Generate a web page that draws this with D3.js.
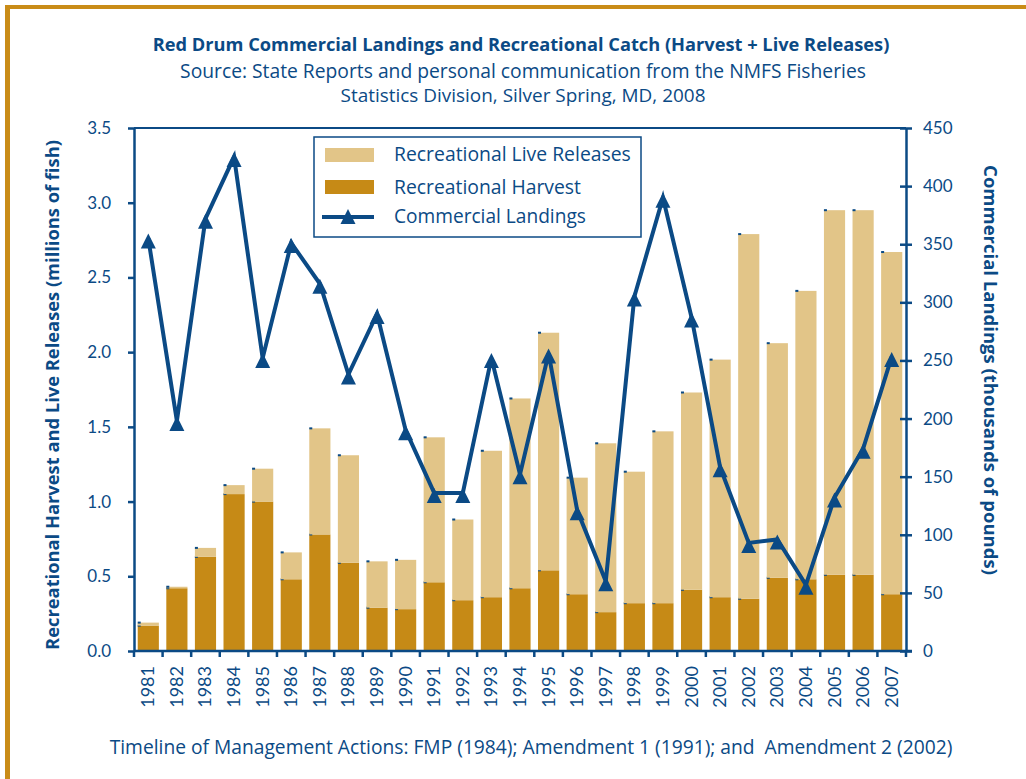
<!doctype html>
<html>
<head>
<meta charset="utf-8">
<script src="https://cdn.jsdelivr.net/npm/d3@7/dist/d3.min.js"></script>
<style>
  body { margin: 0; background: #fff; }
  svg { display: block; font-family: "Open Sans", Lato, sans-serif; }
  .axis path, .axis line { stroke: #0b4a85; stroke-width: 2.5; }
  .axis text { fill: #0b4a85; font-size: 17px; font-family: Lato, sans-serif; }
</style>
</head>
<body>
<svg id="chart" width="1026" height="779"></svg>
<script>
var years = ["1981","1982","1983","1984","1985","1986","1987","1988","1989","1990",
             "1991","1992","1993","1994","1995","1996","1997","1998","1999","2000",
             "2001","2002","2003","2004","2005","2006","2007"];
// millions of fish
var harvest  = [0.17,0.42,0.63,1.05,1.00,0.48,0.78,0.59,0.29,0.28,
                0.46,0.34,0.36,0.42,0.54,0.38,0.26,0.32,0.32,0.41,
                0.36,0.35,0.49,0.48,0.51,0.51,0.38];
var releases = [0.02,0.01,0.06,0.06,0.22,0.18,0.71,0.72,0.31,0.33,
                0.97,0.54,0.98,1.27,1.59,0.78,1.13,0.88,1.15,1.32,
                1.59,2.44,1.57,1.93,2.44,2.44,2.29];
// thousands of pounds
var commercial = [355,198,372,425,252,351,316,238,290,190,
                  136,136,252,152,256,121,60,305,390,287,
                  158,93,96,57,132,174,253];
var leftTicks  = [0,0.5,1.0,1.5,2.0,2.5,3.0,3.5];
var rightTicks = [0,50,100,150,200,250,300,350,400,450];
var legendLabels = ["Recreational Live Releases","Recreational Harvest","Commercial Landings"];

var blue = "#0b4a85", gold = "#c68a16", sand = "#e2c588", frame = "#c98c18";
var svg = d3.select("#chart");
var L = 134, R = 906, T = 128, B = 651;

// shrink/grow a text's font so it spans the given width
function fit(sel, w) {
  var fs = parseFloat(sel.style("font-size"));
  var len = sel.node().getComputedTextLength();
  sel.style("font-size", (fs * w / len).toFixed(2) + "px");
  return sel;
}

// page frame
svg.append("rect").attr("x", 5).attr("y", 5).attr("width", 1021).attr("height", 4).attr("fill", frame);
svg.append("rect").attr("x", 5).attr("y", 5).attr("width", 5).attr("height", 774).attr("fill", frame);

// titles
fit(svg.append("text").attr("x", 521).attr("y", 51).attr("text-anchor", "middle")
  .style("font-size", "17px").style("font-weight", "bold").attr("fill", blue)
  .text("Red Drum Commercial Landings and Recreational Catch (Harvest + Live Releases)"), 737);
fit(svg.append("text").attr("x", 523).attr("y", 78).attr("text-anchor", "middle")
  .style("font-size", "17px").attr("fill", blue)
  .text("Source: State Reports and personal communication from the NMFS Fisheries"), 686);
fit(svg.append("text").attr("x", 523).attr("y", 102).attr("text-anchor", "middle")
  .style("font-size", "17px").attr("fill", blue)
  .text("Statistics Division, Silver Spring, MD, 2008"), 365);

var x = d3.scaleBand().domain(years).range([L, R]).paddingInner(0.26).paddingOuter(0.13);
var yL = d3.scaleLinear().domain([0, 3.5]).range([B, T]);
var yR = d3.scaleLinear().domain([0, 450]).range([B, T]);

// stacked bars
var rows = years.map(function(y, i) { return {year: y, harvest: harvest[i], releases: releases[i]}; });
var stack = d3.stack().keys(["harvest", "releases"])(rows);
var colors = {harvest: gold, releases: sand};

var layers = svg.selectAll("g.layer").data(stack).enter().append("g")
  .attr("class", "layer").attr("fill", function(d) { return colors[d.key]; });
layers.selectAll("rect").data(function(d) { return d; }).enter().append("rect")
  .attr("x", function(d) { return x(d.data.year); })
  .attr("y", function(d) { return yL(d[1]); })
  .attr("width", x.bandwidth())
  .attr("height", function(d) { return yL(d[0]) - yL(d[1]); });
// little marks at each segment top
layers.selectAll("rect.dot").data(function(d) { return d; }).enter().append("rect")
  .attr("class", "dot").attr("fill", blue)
  .attr("x", function(d) { return x(d.data.year); })
  .attr("y", function(d) { return yL(d[1]) - 1; })
  .attr("width", 3).attr("height", 2);

// plot frame top
svg.append("line").attr("x1", L).attr("x2", R).attr("y1", T).attr("y2", T)
  .attr("stroke", blue).attr("stroke-width", 2);

// left axis
svg.append("g").attr("class", "axis").attr("transform", "translate(" + L + ",0)")
  .call(d3.axisLeft(yL).tickValues(leftTicks).tickFormat(d3.format(".1f")).tickSize(6).tickSizeOuter(0).tickPadding(17));

// right axis
var gR = svg.append("g").attr("class", "axis").attr("transform", "translate(" + R + ",0)")
  .call(d3.axisRight(yR).tickValues(rightTicks).tickSize(6).tickSizeOuter(0).tickPadding(11));
gR.selectAll(".tick line").attr("x1", -6);

// bottom axis
var gB = svg.append("g").attr("class", "axis").attr("transform", "translate(0," + B + ")");
gB.append("line").attr("x1", L).attr("x2", R + 6).attr("stroke", blue).attr("stroke-width", 2.5);
gB.selectAll("line.bt").data(d3.range(years.length + 1)).enter().append("line")
  .attr("class", "bt")
  .attr("x1", function(i) { return L + i * x.step(); })
  .attr("x2", function(i) { return L + i * x.step(); })
  .attr("y1", 0).attr("y2", 6).attr("stroke", blue).attr("stroke-width", 2);
gB.selectAll("text").data(years).enter().append("text")
  .attr("transform", function(d) { return "translate(" + (x(d) + x.bandwidth() / 2 + 6) + ",15) rotate(-90)"; })
  .attr("text-anchor", "end")
  .style("font-size", "18px")
  .text(function(d) { return d; });

// axis titles
fit(svg.append("text").attr("transform", "translate(59,395) rotate(-90)").attr("text-anchor", "middle")
  .style("font-size", "17px").style("font-weight", "bold").attr("fill", blue)
  .text("Recreational Harvest and Live Releases (millions of fish)"), 510);
fit(svg.append("text").attr("transform", "translate(984,370) rotate(90)").attr("text-anchor", "middle")
  .style("font-size", "17px").style("font-weight", "bold").attr("fill", blue)
  .text("Commercial Landings (thousands of pounds)"), 410);

// commercial landings line
var tri = "M0,-5L7.5,10L-7.5,10Z";
var cx = function(i) { return x(years[i]) + x.bandwidth() / 2; };
svg.append("path").datum(commercial)
  .attr("fill", "none").attr("stroke", blue).attr("stroke-width", 4).attr("stroke-linejoin", "miter")
  .attr("d", d3.line().x(function(d, i) { return cx(i); }).y(function(d) { return yR(d); }));
svg.selectAll("path.mk").data(commercial).enter().append("path")
  .attr("class", "mk").attr("fill", blue).attr("d", tri)
  .attr("transform", function(d, i) { return "translate(" + cx(i) + "," + yR(d) + ")"; });

// legend
var lg = svg.append("g");
lg.append("rect").attr("x", 314).attr("y", 137).attr("width", 327).attr("height", 100)
  .attr("fill", "#fff").attr("stroke", blue).attr("stroke-width", 1.5);
lg.append("rect").attr("x", 325).attr("y", 148).attr("width", 49).attr("height", 14).attr("fill", sand);
lg.append("rect").attr("x", 325).attr("y", 180).attr("width", 49).attr("height", 14).attr("fill", gold);
lg.append("line").attr("x1", 322).attr("x2", 374).attr("y1", 217).attr("y2", 217)
  .attr("stroke", blue).attr("stroke-width", 4);
lg.append("path").attr("d", tri).attr("fill", blue).attr("transform", "translate(348,214)");
var legendWidths = [237, 187, 192];
lg.selectAll("text").data(legendLabels).enter().append("text")
  .attr("x", 394).attr("y", function(d, i) { return [161, 194, 223][i]; })
  .style("font-size", "17px").attr("fill", blue)
  .text(function(d) { return d; })
  .each(function(d, i) { fit(d3.select(this), legendWidths[i]); });

// footer
fit(svg.append("text").attr("x", 531).attr("y", 754).attr("text-anchor", "middle")
  .style("font-size", "17px").style("white-space", "pre").attr("fill", blue)
  .text("Timeline of Management Actions: FMP (1984); Amendment 1 (1991); and  Amendment 2 (2002)"), 843);
</script>
</body>
</html>
